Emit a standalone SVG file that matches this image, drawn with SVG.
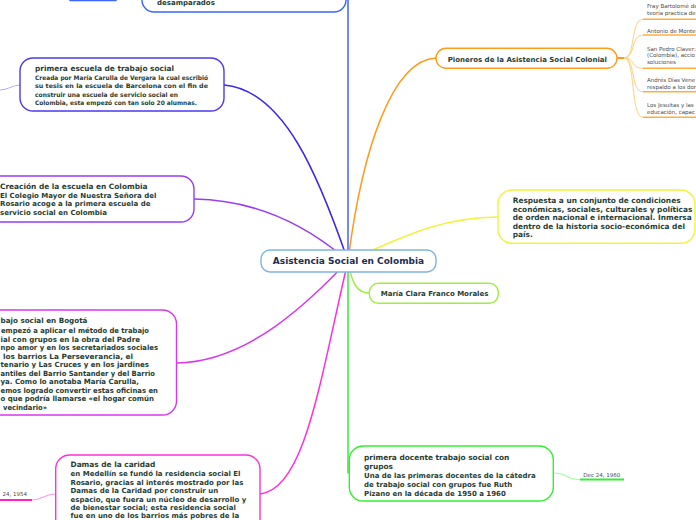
<svg xmlns="http://www.w3.org/2000/svg" width="696" height="520" viewBox="0 0 696 520">
<style>
  .n { fill: #ffffff; stroke-width: 1.4; }
  .t { font-family: "DejaVu Sans", Verdana, sans-serif; font-weight: bold; fill: #1f3d33; }
  .ttl { font-size: 7.4px; }
  .bd { font-size: 7px; }
  .lg { font-size: 7.4px; }
  .sm { font-family: "DejaVu Sans", Verdana, sans-serif; font-size: 5.5px; fill: #4a4a4a; }
  .c { fill: none; stroke-width: 1.5; stroke-linecap: round; }
  .cc { fill: none; stroke: #ffcf80; stroke-width: 1; }
  .ul { fill: none; stroke: #ffae3c; stroke-width: 1.4; }
</style>

<g id="connectors">
  <path class="c" stroke="#3a66ff" d="M348,261 L348,0"/>
  <path class="c" stroke="#3b28e6" d="M348,261 C320,180 285,90 224,85"/>
  <path class="c" stroke="#9a3cf2" d="M348,261 C310,228 260,200 194,199"/>
  <path class="c" stroke="#d936ee" d="M348,261 C310,300 250,362 176,363"/>
  <path class="c" stroke="#ff2ee0" d="M348,261 C320,380 305,490 260,494"/>
  <path class="c" stroke="#ff9a1a" d="M348,261 C362,150 392,60 436,58"/>
  <path class="c" stroke="#f2f23a" d="M348,261 C400,238 440,217 498,217"/>
  <path class="c" stroke="#a0ee40" d="M348,261 C352,285 358,293 369,293"/>
  <path class="c" stroke="#33ee33" d="M348,261 L348,473"/>
  <path class="c" stroke="#3a66ff" stroke-width="2" d="M70,0.5 L116,0.5"/>
  <path fill="none" stroke="#b6a8ff" stroke-width="1" d="M20,85 C12,85 8,90 0,90"/>
  <path fill="none" stroke="#ff9be8" stroke-width="1.2" d="M55,494 C45,494 42,500 32,500"/>
  <path fill="none" stroke="#ff22cc" stroke-width="2" d="M0,500 L32,500"/>
  <path fill="none" stroke="#9cff9c" stroke-width="1.2" d="M553,473 C568,473 565,479.5 580,479.5"/>
  <path fill="none" stroke="#33ee33" stroke-width="2" d="M580,479.5 L624,479.5"/>
  <path fill="none" stroke="#ff9a1a" stroke-width="2" d="M617,58 L624,58"/>
  <path class="cc" d="M624,58 C636,58 630,19.3 643,19.3"/>
  <path class="cc" d="M624,58 C636,58 630,35 643,35"/>
  <path class="cc" d="M624,58 C636,58 630,68.3 643,68.3"/>
  <path class="cc" d="M624,58 C636,58 630,91.7 643,91.7"/>
  <path class="cc" d="M624,58 C636,58 630,117.3 643,117.3"/>
  <path class="ul" d="M643,19.3 L696,19.3"/>
  <path class="ul" d="M643,35 L696,35"/>
  <path class="ul" d="M643,68.3 L696,68.3"/>
  <path class="ul" d="M643,91.7 L696,91.7"/>
  <path class="ul" d="M643,117.3 L696,117.3"/>
</g>

<g id="central">
  <rect class="n" x="261" y="250" width="175" height="22" rx="9" stroke="#80b4de" stroke-width="1.6"/>
  <text class="t" x="348.5" y="264.3" font-size="9px" text-anchor="middle" style="fill:#1c2d52">Asistencia Social en Colombia</text>
</g>

<g id="node-desamparados">
  <rect class="n" x="142" y="-30" width="204" height="42" rx="12" stroke="#3a66ff"/>
  <text class="t bd" x="157" y="4.8">desamparados</text>
</g>

<g id="node-primera-escuela">
  <rect class="n" x="20" y="58" width="204" height="53" rx="13" stroke="#4a3af0"/>
  <text class="t ttl" x="35" y="71.3">primera escuela de trabajo social</text>
  <text class="t" font-size="6.2px" x="35" y="79.5" textLength="173" lengthAdjust="spacingAndGlyphs">Creada por María Carulla de Vergara la cual escribió</text>
  <text class="t" font-size="6.2px" x="35" y="88.2" textLength="173" lengthAdjust="spacingAndGlyphs">su tesis en la escuela de Barcelona con el fin de</text>
  <text class="t" font-size="6.2px" x="35" y="96.6" textLength="143" lengthAdjust="spacingAndGlyphs">construir una escuela de servicio social en</text>
  <text class="t" font-size="6.2px" x="35" y="105" textLength="162" lengthAdjust="spacingAndGlyphs">Colombia, esta empezó con tan solo 20 alumnas.</text>
</g>

<g id="node-creacion">
  <rect class="n" x="-20" y="176" width="214" height="46" rx="13" stroke="#9a3cf2"/>
  <text class="t lg" x="0" y="189">Creación de la escuela en Colombia</text>
  <text class="t bd" x="0" y="197.7">El Colegio Mayor de Nuestra Señora del</text>
  <text class="t bd" x="0" y="206.4">Rosario acoge a la primera escuela de</text>
  <text class="t bd" x="0" y="215.1">servicio social en Colombia</text>
</g>

<g id="node-bogota">
  <rect class="n" x="-20" y="310" width="196.5" height="105" rx="14" stroke="#d936ee"/>
  <text class="t" font-size="7.2px" x="0.5" y="323">bajo social en Bogotá</text>
  <text class="t" font-size="7.2px" x="1" y="333.3" textLength="148" lengthAdjust="spacingAndGlyphs">empezó a aplicar el método de trabajo</text>
  <text class="t" font-size="7.2px" x="0.5" y="341.8" textLength="139.5" lengthAdjust="spacingAndGlyphs">ial con grupos en la obra del Padre</text>
  <text class="t" font-size="7.2px" x="0.5" y="350.3" textLength="157.5" lengthAdjust="spacingAndGlyphs">npo amor y en los secretariados sociales</text>
  <text class="t" font-size="7.2px" x="3" y="358.7" textLength="130" lengthAdjust="spacingAndGlyphs">los barrios La Perseverancia, el</text>
  <text class="t" font-size="7.2px" x="0.5" y="367.2" textLength="148.5" lengthAdjust="spacingAndGlyphs">tenario y Las Cruces y en los jardines</text>
  <text class="t" font-size="7.2px" x="0.5" y="375.7" textLength="154.5" lengthAdjust="spacingAndGlyphs">antiles del Barrio Santander y del Barrio</text>
  <text class="t" font-size="7.2px" x="0.5" y="384.2" textLength="138.5" lengthAdjust="spacingAndGlyphs">ya. Como lo anotaba María Carulla,</text>
  <text class="t" font-size="7.2px" x="0.5" y="392.6" textLength="157.5" lengthAdjust="spacingAndGlyphs">emos logrado convertir estas oficinas en</text>
  <text class="t" font-size="7.2px" x="0.5" y="401.1" textLength="153.5" lengthAdjust="spacingAndGlyphs">o que podría llamarse «el hogar común</text>
  <text class="t" font-size="7.2px" x="3" y="409.6" textLength="44" lengthAdjust="spacingAndGlyphs">vecindario»</text>
</g>

<g id="node-damas">
  <rect class="n" x="55.7" y="455" width="204.3" height="90" rx="14" stroke="#ff2ee0"/>
  <text class="t ttl" x="70.5" y="466.6">Damas de la caridad</text>
  <text class="t bd" x="70.5" y="476.3">en Medellín se fundó la residencia social El</text>
  <text class="t bd" x="70.5" y="484.7">Rosario, gracias al interés mostrado por las</text>
  <text class="t bd" x="70.5" y="493.2">Damas de la Caridad por construir un</text>
  <text class="t bd" x="70.5" y="501.6">espacio, que fuera un núcleo de desarrollo y</text>
  <text class="t bd" x="70.5" y="510">de bienestar social; esta residencia social</text>
  <text class="t bd" x="70.5" y="518.4">fue en uno de los barrios más pobres de la</text>
</g>

<g id="date-1954">
  <text class="sm" x="27" y="495.5" text-anchor="end">24, 1954</text>
</g>

<g id="node-pioneros">
  <rect class="n" x="436" y="48.3" width="181" height="20" rx="10" stroke="#ff9a1a"/>
  <text class="t bd" x="447.7" y="61.6">Pioneros de la Asistencia Social Colonial</text>
</g>

<g id="pioneros-children">
  <text class="sm" x="647" y="8.2">Fray Bartolomé de</text>
  <text class="sm" x="647" y="15">teoría practica de</text>
  <text class="sm" x="647" y="33">Antonio de Monte</text>
  <text class="sm" x="647" y="50.5">San Pedro Claver:</text>
  <text class="sm" x="647" y="57.3">(Colombia), accio</text>
  <text class="sm" x="647" y="64">soluciones</text>
  <text class="sm" x="647" y="82">Andrés Días Vene</text>
  <text class="sm" x="647" y="89">respaldo a los dor</text>
  <text class="sm" x="647" y="107">Los Jesuitas y las</text>
  <text class="sm" x="647" y="113.7">educación, capac</text>
</g>

<g id="node-respuesta">
  <rect class="n" x="498" y="190" width="197" height="53.3" rx="14" stroke="#f2f23a"/>
  <text class="t lg" x="512.7" y="203">Respuesta a un conjunto de condiciones</text>
  <text class="t lg" x="512.7" y="211.6">económicas, sociales, culturales y políticas</text>
  <text class="t lg" x="512.7" y="220.2">de orden nacional e internacional. Inmersa</text>
  <text class="t lg" x="512.7" y="228.8">dentro de la historia socio-económica del</text>
  <text class="t lg" x="512.7" y="237.4">país.</text>
</g>

<g id="node-maria">
  <rect class="n" x="369.3" y="283.3" width="129" height="20" rx="9" stroke="#a0ee40"/>
  <text class="t bd" x="380.7" y="296.3">María Clara Franco Morales</text>
</g>

<g id="node-docente">
  <rect class="n" x="349.3" y="446" width="204" height="55" rx="14" stroke="#33ee33"/>
  <text class="t ttl" x="364" y="460">primera docente trabajo social con</text>
  <text class="t ttl" x="364" y="469">grupos</text>
  <text class="t bd" x="364" y="478">Una de las primeras docentes de la cátedra</text>
  <text class="t bd" x="364" y="486.8">de trabajo social con grupos fue Ruth</text>
  <text class="t bd" x="364" y="495.6">Pizano en la década de 1950 a 1960</text>
</g>

<g id="date-1960">
  <text class="sm" x="583.3" y="477">Dec 24, 1960</text>
</g>
</svg>
